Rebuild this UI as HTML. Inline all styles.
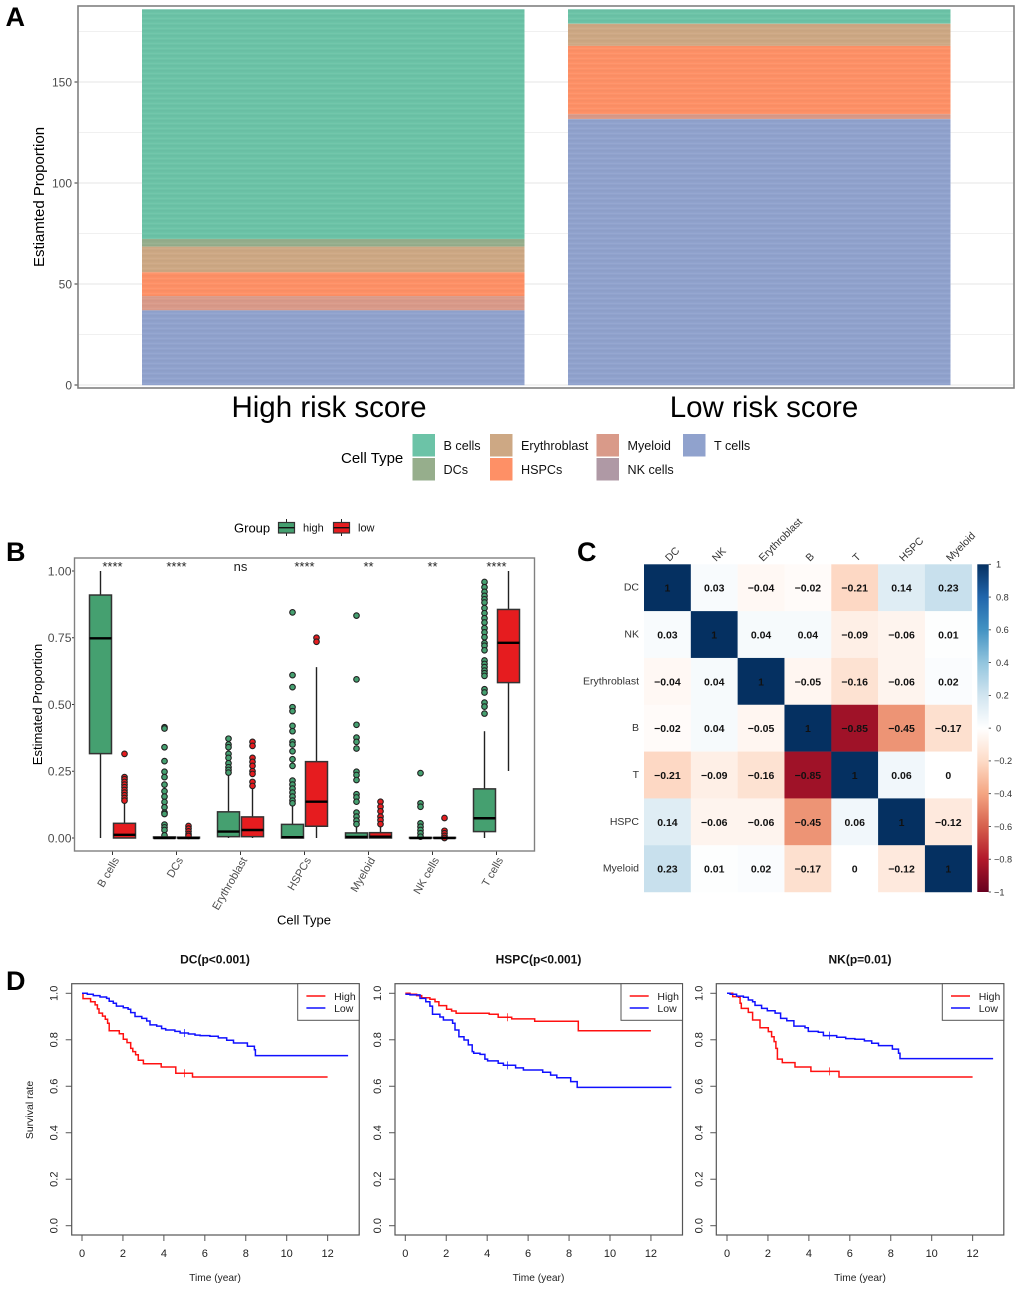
<!DOCTYPE html>
<html lang="en">
<head>
<meta charset="utf-8">
<title>Cell type proportions, correlation and survival</title>
<style>
html,body{margin:0;padding:0;background:#fff;width:1020px;height:1289px;overflow:hidden}
svg{display:block;font-family:"Liberation Sans",sans-serif;filter:blur(0.3px)}
</style>
</head>
<body>
<svg id="fig" xmlns="http://www.w3.org/2000/svg" width="1020" height="1289" viewBox="0 0 1020 1289">
<defs>
<linearGradient id="rdbu" x1="0" y1="0" x2="0" y2="1">
<stop offset="0" stop-color="#053061"/><stop offset="0.1" stop-color="#2166ac"/><stop offset="0.2" stop-color="#4393c3"/><stop offset="0.3" stop-color="#92c5de"/><stop offset="0.4" stop-color="#d1e5f0"/><stop offset="0.5" stop-color="#ffffff"/><stop offset="0.6" stop-color="#fddbc7"/><stop offset="0.7" stop-color="#f4a582"/><stop offset="0.8" stop-color="#d6604d"/><stop offset="0.9" stop-color="#b2182b"/><stop offset="1" stop-color="#67001f"/>
</linearGradient>
<pattern id="stripes" patternUnits="userSpaceOnUse" width="10" height="5">
<rect x="0" y="0" width="10" height="1.5" fill="#000" fill-opacity="0.025"/>
<rect x="0" y="3" width="10" height="1" fill="#fff" fill-opacity="0.05"/>
</pattern>
</defs>
<text x="5.5" y="26" font-size="27" font-weight="bold">A</text>
<text x="6" y="561" font-size="27" font-weight="bold">B</text>
<text x="577" y="561" font-size="27" font-weight="bold">C</text>
<text x="6" y="990" font-size="27" font-weight="bold">D</text>
</svg>
<script>
// ---------- Panel A data ----------
const stackGroups = ['High risk score', 'Low risk score'];
const stackTypes = ['B cells', 'DCs', 'Erythroblast', 'HSPCs', 'Myeloid', 'NK cells', 'T cells'];
const stackHigh = [113.7, 3.8, 12.7, 11.8, 7, 0.1, 37];
const stackLow = [7.1, 0.1, 10.9, 33.8, 2.5, 0, 131.7];
const stackColors = ['#6cc3a7', '#96ae8c', '#cda884', '#fe9066', '#d99a89', '#af99a5', '#90a2cd'];
const stackMajorTicks = [0, 50, 100, 150];
const stackMinorTicks = [25, 75, 125, 175];

// ---------- Panel B data ----------
const boxCategories = ['B cells', 'DCs', 'Erythroblast', 'HSPCs', 'Myeloid', 'NK cells', 'T cells'];
const boxSignificance = ['****', '****', 'ns', '****', '**', '**', '****'];
const boxTicks = ['0.00', '0.25', '0.50', '0.75', '1.00'];
const highQ1 = [0.316, 0, 0.005, 0, 0, 0, 0.024];
const highMedian = [0.748, 0, 0.024, 0.003, 0.004, 0, 0.074];
const highQ3 = [0.91, 0.004, 0.098, 0.051, 0.019, 0.002, 0.184];
const highWhiskerLow = [0, 0, 0, 0, 0, 0, 0];
const highWhiskerHigh = [1, 0.006, 0.24, 0.12, 0.05, 0.004, 0.4];
const highOutliers = [
  [],
  [0.415, 0.41, 0.34, 0.288, 0.248, 0.228, 0.2, 0.175, 0.155, 0.135, 0.115, 0.095, 0.09, 0.05, 0.04, 0.03, 0.01],
  [0.372, 0.35, 0.34, 0.315, 0.3, 0.28, 0.265, 0.255, 0.245],
  [0.845, 0.61, 0.565, 0.49, 0.475, 0.42, 0.4, 0.36, 0.35, 0.325, 0.295, 0.27, 0.215, 0.2, 0.185, 0.17, 0.155, 0.14, 0.13],
  [0.833, 0.594, 0.424, 0.376, 0.36, 0.335, 0.248, 0.236, 0.217, 0.164, 0.152, 0.136, 0.095, 0.08, 0.065, 0.052],
  [0.243, 0.13, 0.117, 0.055, 0.042, 0.03, 0.018, 0.005],
  [0.959, 0.939, 0.922, 0.907, 0.894, 0.882, 0.861, 0.842, 0.823, 0.807, 0.786, 0.77, 0.752, 0.73, 0.72, 0.703, 0.665, 0.652, 0.64, 0.627, 0.617, 0.607, 0.557, 0.545, 0.507, 0.492, 0.466]
];
const lowQ1 = [0, 0, 0.005, 0.044, 0, 0, 0.582];
const lowMedian = [0.012, 0, 0.03, 0.136, 0.005, 0, 0.731];
const lowQ3 = [0.055, 0.003, 0.079, 0.286, 0.02, 0.002, 0.856];
const lowWhiskerLow = [0, 0, 0, 0, 0, 0, 0.251];
const lowWhiskerHigh = [0.135, 0.005, 0.185, 0.64, 0.045, 0.004, 1];
const lowOutliers = [
  [0.315, 0.228, 0.22, 0.21, 0.2, 0.19, 0.18, 0.17, 0.16, 0.15, 0.14],
  [0.045, 0.035, 0.025, 0.015, 0.008],
  [0.36, 0.345, 0.3, 0.285, 0.27, 0.25, 0.24, 0.21, 0.195],
  [0.75, 0.735],
  [0.136, 0.117, 0.1, 0.08, 0.067, 0.052],
  [0.075, 0.027, 0.018, 0.008, 0],
  []
];

// ---------- Panel C data ----------
const corrLabels = ['DC', 'NK', 'Erythroblast', 'B', 'T', 'HSPC', 'Myeloid'];
const corrValues = [
  [1, 0.03, -0.04, -0.02, -0.21, 0.14, 0.23],
  [0.03, 1, 0.04, 0.04, -0.09, -0.06, 0.01],
  [-0.04, 0.04, 1, -0.05, -0.16, -0.06, 0.02],
  [-0.02, 0.04, -0.05, 1, -0.85, -0.45, -0.17],
  [-0.21, -0.09, -0.16, -0.85, 1, 0.06, 0],
  [0.14, -0.06, -0.06, -0.45, 0.06, 1, -0.12],
  [0.23, 0.01, 0.02, -0.17, 0, -0.12, 1]
];
const colorbarTicks = [1, 0.8, 0.6, 0.4, 0.2, 0, -0.2, -0.4, -0.6, -0.8, -1];
const rdbuStops = ['#67001f', '#b2182b', '#d6604d', '#f4a582', '#fddbc7', '#ffffff', '#d1e5f0', '#92c5de', '#4393c3', '#2166ac', '#053061'];

// ---------- Panel D data ----------
const kmXTicks = [0, 2, 4, 6, 8, 10, 12];
const kmYTicks = ['0.0', '0.2', '0.4', '0.6', '0.8', '1.0'];
const dcHighT = [0, 0.05, 0.42, 0.64, 0.75, 0.83, 1, 1.14, 1.25, 1.33, 1.82, 2.02, 2.2, 2.38, 2.48, 2.62, 2.75, 3, 3.87, 4.58, 5.4, 12];
const dcHighS = [1, 0.977, 0.964, 0.95, 0.933, 0.915, 0.902, 0.888, 0.871, 0.839, 0.826, 0.802, 0.788, 0.763, 0.749, 0.736, 0.712, 0.697, 0.683, 0.656, 0.64, 0.64];
const dcLowT = [0, 0.26, 0.55, 0.88, 1.2, 1.33, 1.53, 1.68, 2.02, 2.25, 2.38, 2.59, 2.92, 3.16, 3.32, 3.65, 3.89, 4.09, 4.54, 4.79, 5.2, 5.52, 5.77, 6.25, 6.66, 7.07, 7.4, 8.08, 8.42, 8.47, 13];
const dcLowS = [1, 0.996, 0.99, 0.984, 0.978, 0.966, 0.957, 0.945, 0.938, 0.931, 0.917, 0.9, 0.892, 0.881, 0.864, 0.859, 0.848, 0.842, 0.836, 0.829, 0.825, 0.82, 0.818, 0.815, 0.808, 0.798, 0.786, 0.772, 0.757, 0.732, 0.732];
const hspcHighT = [0, 0.23, 0.55, 0.8, 1.2, 1.45, 1.64, 2.02, 2.26, 2.48, 4.1, 4.54, 5.2, 6.32, 8.45, 12];
const hspcHighS = [1, 0.996, 0.99, 0.981, 0.974, 0.964, 0.947, 0.931, 0.924, 0.914, 0.91, 0.897, 0.89, 0.88, 0.839, 0.839];
const hspcLowT = [0, 0.23, 0.72, 1, 1.2, 1.33, 1.69, 1.86, 2.31, 2.43, 2.62, 2.87, 3.08, 3.27, 3.34, 3.65, 3.89, 4.02, 4.54, 4.79, 5.39, 5.77, 6.71, 7.1, 7.4, 8.08, 8.4, 13];
const hspcLowS = [0.996, 0.993, 0.978, 0.964, 0.945, 0.91, 0.898, 0.885, 0.871, 0.842, 0.813, 0.799, 0.778, 0.749, 0.742, 0.737, 0.717, 0.709, 0.699, 0.69, 0.679, 0.67, 0.66, 0.648, 0.637, 0.62, 0.595, 0.595];
const nkHighT = [0, 0.28, 0.57, 0.64, 0.7, 1.04, 1.25, 1.61, 2.02, 2.18, 2.3, 2.39, 2.46, 2.7, 3.32, 4.1, 5.47, 12];
const nkHighS = [1, 0.986, 0.983, 0.957, 0.935, 0.918, 0.885, 0.852, 0.835, 0.813, 0.792, 0.763, 0.717, 0.702, 0.683, 0.664, 0.64, 0.64];
const nkLowT = [0, 0.15, 0.47, 0.8, 1.04, 1.25, 1.37, 1.69, 1.97, 2.35, 2.62, 2.92, 3.27, 3.81, 3.97, 4.46, 4.71, 5.36, 5.8, 6.25, 6.71, 7.07, 7.4, 8.08, 8.38, 8.45, 13];
const nkLowS = [1, 0.996, 0.988, 0.983, 0.971, 0.964, 0.948, 0.935, 0.925, 0.915, 0.892, 0.882, 0.859, 0.852, 0.836, 0.832, 0.818, 0.811, 0.805, 0.802, 0.795, 0.785, 0.775, 0.76, 0.742, 0.719, 0.719];

// ---------- helpers ----------
const fig = document.getElementById('fig');
const NS = 'http://www.w3.org/2000/svg';
function mk(tag, attrs, parent, txt) {
  const el = document.createElementNS(NS, tag);
  for (const k in attrs) el.setAttribute(k, attrs[k]);
  if (txt !== undefined) el.textContent = txt;
  (parent || fig).appendChild(el);
  return el;
}
function slug(s) { return String(s).toLowerCase().replace(/[^a-z0-9]+/g, '-').replace(/^-|-$/g, ''); }

// ---------- Panel A ----------
const yA = v => 385 - v * 2.02;
const barXA = [142, 568];
const barWA = 382.5;
const groupLabelX = [329, 764];
(function () {
  const g = mk('g', {});
  
  
  const bg = mk('rect', { x: 78, y: 6, width: 936, height: 382, fill: '#fff' }, g);
  
  
  stackMinorTicks.forEach(v => {
    const l = mk('line', { x1: 79, x2: 1013, y1: yA(v), y2: yA(v), stroke: '#f0f0f0', 'stroke-width': 1 }, g);
    
    
  });
  stackMajorTicks.forEach(v => {
    const l = mk('line', { x1: 79, x2: 1013, y1: yA(v), y2: yA(v), stroke: '#ebebeb', 'stroke-width': 1.3 }, g);
    
    
    const t = mk('line', { x1: 74.5, x2: 78, y1: yA(v), y2: yA(v), stroke: '#333', 'stroke-width': 1 }, g);
    
    
    const lab = mk('text', { x: 72, y: yA(v) + 4.4, 'text-anchor': 'end', 'font-size': 12, fill: '#4d4d4d' }, g, v);
    
    
  });
  [stackHigh, stackLow].forEach((vals, gi) => {
    let base = 186;
    vals.forEach((v, i) => {
      const top = base;
      base -= v;
      if (v <= 0) return;
      const r = mk('rect', { x: barXA[gi], y: yA(top), width: barWA, height: v * 2.02, fill: stackColors[i] }, g);
      
      
    });
    const tex = mk('rect', { x: barXA[gi], y: yA(186), width: barWA, height: 186 * 2.02, fill: 'url(#stripes)' }, g);
    
    
    const lab = mk('text', { x: groupLabelX[gi], y: 417, 'text-anchor': 'middle', 'font-size': 29.5 }, g, stackGroups[gi]);
    
    
  });
  const frame = mk('rect', { x: 78, y: 6, width: 936, height: 382, fill: 'none', stroke: '#808080', 'stroke-width': 1.6 }, g);
  
  
  const yt = mk('text', { transform: 'translate(44,197) rotate(-90)', 'text-anchor': 'middle', 'font-size': 15 }, g, 'Estiamted Proportion');
  
  
  const lt = mk('text', { x: 341, y: 463, 'font-size': 15 }, g, 'Cell Type');
  
  
  const colX = [412.5, 412.5, 490, 490, 596.5, 596.5, 683];
  const rowY = [434, 458, 434, 458, 434, 458, 434];
  stackTypes.forEach((name, i) => {
    const s = mk('rect', { x: colX[i], y: rowY[i], width: 22.5, height: 22.5, fill: stackColors[i] }, g);
    
    
    const t = mk('text', { x: colX[i] + 31, y: rowY[i] + 16, 'font-size': 12.6, fill: '#111' }, g, name);
    
    
  });
})();

// ---------- Panel B ----------
const yB = v => 838 - v * 267;
const xB = i => 112.5 + i * 64;
const boxW = 22;
const BOX_GREEN = '#45a070';
const BOX_RED = '#e61c1f';
function drawBox(g, cx, q1, med, q3, wl, wh, outs, color, label) {
  const wa = mk('line', { x1: cx, x2: cx, y1: yB(wh), y2: yB(q3), stroke: '#222', 'stroke-width': 1.4 }, g);
  
  
  const wb = mk('line', { x1: cx, x2: cx, y1: yB(q1), y2: yB(wl), stroke: '#222', 'stroke-width': 1.4 }, g);
  
  
  outs.forEach(o => {
    const c = mk('circle', { cx: cx, cy: yB(o), r: 2.8, fill: color, stroke: '#222', 'stroke-width': 1.1 }, g);
    
    
  });
  const r = mk('rect', { x: cx - boxW / 2, y: yB(q3), width: boxW, height: Math.max(yB(q1) - yB(q3), 0.1), fill: color, stroke: '#333', 'stroke-width': 1.5 }, g);
  
  
  const m = mk('line', { x1: cx - boxW / 2, x2: cx + boxW / 2, y1: yB(med), y2: yB(med), stroke: '#000', 'stroke-width': 2.4 }, g);
  
  
}
(function () {
  const g = mk('g', {});
  
  
  boxCategories.forEach((name, i) => {
    const s = slug(name);
    drawBox(g, xB(i) - 12, highQ1[i], highMedian[i], highQ3[i], highWhiskerLow[i], highWhiskerHigh[i], highOutliers[i], BOX_GREEN, s + '-high');
    drawBox(g, xB(i) + 12, lowQ1[i], lowMedian[i], lowQ3[i], lowWhiskerLow[i], lowWhiskerHigh[i], lowOutliers[i], BOX_RED, s + '-low');
    const sig = mk('text', { x: xB(i), y: 571, 'text-anchor': 'middle', 'font-size': 13, fill: '#222' }, g, boxSignificance[i]);
    
    
    const t = mk('line', { x1: xB(i), x2: xB(i), y1: 851, y2: 855, stroke: '#333', 'stroke-width': 1 }, g);
    
    
    const lab = mk('text', { transform: 'translate(' + (xB(i) + 7) + ',860) rotate(-60)', 'text-anchor': 'end', 'font-size': 11, fill: '#4d4d4d' }, g, name);
    
    
  });
  boxTicks.forEach(v => {
    const t = mk('line', { x1: 72, x2: 74, y1: yB(+v), y2: yB(+v), stroke: '#333', 'stroke-width': 1 }, g);
    
    
    const lab = mk('text', { x: 71.5, y: yB(+v) + 4.4, 'text-anchor': 'end', 'font-size': 12.2, fill: '#4d4d4d' }, g, v);
    
    
  });
  const frame = mk('rect', { x: 74.5, y: 558, width: 460, height: 293, fill: 'none', stroke: '#808080', 'stroke-width': 1.4 }, g);
  
  
  const yt = mk('text', { transform: 'translate(42,704.5) rotate(-90)', 'text-anchor': 'middle', 'font-size': 13 }, g, 'Estimated Proportion');
  
  
  const xt = mk('text', { x: 304, y: 924.5, 'text-anchor': 'middle', 'font-size': 13 }, g, 'Cell Type');
  
  
  const lg = mk('text', { x: 234, y: 532.5, 'font-size': 13 }, g, 'Group');
  
  
  [['high', 278.5, BOX_GREEN, 303], ['low', 333.5, BOX_RED, 358]].forEach(k => {
    const w = mk('line', { x1: k[1] + 8, x2: k[1] + 8, y1: 519, y2: 536, stroke: '#222', 'stroke-width': 1 }, g);
    
    
    const r = mk('rect', { x: k[1], y: 522.5, width: 16, height: 10.5, fill: k[2], stroke: '#333', 'stroke-width': 1.2 }, g);
    
    
    const m = mk('line', { x1: k[1], x2: k[1] + 16, y1: 527.7, y2: 527.7, stroke: '#111', 'stroke-width': 1.4 }, g);
    
    
    const t = mk('text', { x: k[3], y: 531.5, 'font-size': 11, fill: '#111' }, g, k[0]);
    
    
  });
})();

// ---------- Panel C ----------
const heatX0 = 644, heatY0 = 564.3, heatCell = 46.82;
const yBar = v => 564.3 + (1 - v) / 2 * 327.7;
function hexToRgb(h) { return [1, 3, 5].map(i => parseInt(h.substr(i, 2), 16)); }
function corrColor(v) {
  const p = (v + 1) * 5;
  const i = Math.min(Math.floor(p), 9);
  const f = p - i;
  const a = hexToRgb(rdbuStops[i]);
  const b = hexToRgb(rdbuStops[i + 1]);
  return 'rgb(' + a.map((c, k) => Math.round(c + (b[k] - c) * f)).join(',') + ')';
}
(function () {
  const g = mk('g', {});
  
  
  corrValues.forEach((row, r) => {
    row.forEach((v, c) => {
      const x = heatX0 + c * heatCell;
      const y = heatY0 + r * heatCell;
      const cell = mk('rect', { x: x, y: y, width: heatCell + 0.2, height: heatCell + 0.2, fill: corrColor(v) }, g);
      
      
      const t = mk('text', { x: x + heatCell / 2, y: y + heatCell / 2 + 4, 'text-anchor': 'middle', 'font-size': 10.5, 'font-weight': 'bold', fill: '#111' }, g, String(v).replace('-', '\u2212'));
      
      
    });
  });
  corrLabels.forEach((name, i) => {
    const rl = mk('text', { x: 639, y: heatY0 + i * heatCell + heatCell / 2 + 3, 'text-anchor': 'end', 'font-size': 10.5, fill: '#333' }, g, name);
    
    
    const cl = mk('text', { transform: 'translate(' + (heatX0 + i * heatCell + heatCell / 2 + 2) + ',562) rotate(-45)', 'font-size': 10.5, fill: '#333' }, g, name);
    
    
  });
  const bar = mk('rect', { x: 977.3, y: 564.3, width: 11.4, height: 327.7, fill: 'url(#rdbu)' }, g);
  
  
  colorbarTicks.forEach(v => {
    const t = mk('line', { x1: 988.7, x2: 991, y1: yBar(v), y2: yBar(v), stroke: '#333', 'stroke-width': 0.8 }, g);
    
    
    const anchorX = v < 0 ? 994 : 996;
    const lab = mk('text', { x: anchorX, y: yBar(v) + 3.3, 'font-size': 9.2, fill: '#333' }, g, String(v).replace('-', '\u2212'));
    
    
  });
})();

// ---------- Panel D ----------
const kmY = s => 1225.7 - s * 232.4;
function stepPath(xf, ts, ss) {
  let d = 'M' + xf(ts[0]).toFixed(1) + ' ' + kmY(ss[0]).toFixed(1);
  for (let i = 1; i < ts.length; i++) {
    d += 'H' + xf(ts[i]).toFixed(1) + 'V' + kmY(ss[i]).toFixed(1);
  }
  return d;
}
function survAt(ts, ss, t) {
  let s = ss[0];
  for (let i = 0; i < ts.length; i++) { if (ts[i] <= t) s = ss[i]; }
  return s;
}
function drawKM(cfg) {
  const g = mk('g', {});
  
  
  const xf = t => cfg.x0 + t * 20.47;
  const ti = mk('text', { x: cfg.titleX, y: 963.5, 'text-anchor': 'middle', 'font-size': 12, 'font-weight': 'bold', fill: '#111' }, g, cfg.title);
  
  
  const fr = mk('rect', { x: cfg.left, y: 983.7, width: 287.5, height: 251.3, fill: 'none', stroke: '#555', 'stroke-width': 1.2 }, g);
  
  
  kmXTicks.forEach(v => {
    const t = mk('line', { x1: xf(v), x2: xf(v), y1: 1235, y2: 1241, stroke: '#555', 'stroke-width': 1 }, g);
    
    
    const lab = mk('text', { x: xf(v), y: 1257, 'text-anchor': 'middle', 'font-size': 11, fill: '#222' }, g, v);
    
    
  });
  kmYTicks.forEach(v => {
    const t = mk('line', { x1: cfg.left - 6, x2: cfg.left, y1: kmY(+v), y2: kmY(+v), stroke: '#555', 'stroke-width': 1 }, g);
    
    
    const lab = mk('text', { transform: 'translate(' + (cfg.left - 14) + ',' + kmY(+v) + ') rotate(-90)', 'text-anchor': 'middle', 'font-size': 11, fill: '#222' }, g, v);
    
    
  });
  const xt = mk('text', { x: cfg.titleX, y: 1281, 'text-anchor': 'middle', 'font-size': 10.2, fill: '#222' }, g, 'Time (year)');
  
  
  const high = mk('path', { d: stepPath(xf, cfg.highT, cfg.highS), fill: 'none', stroke: '#ff1010', 'stroke-width': 1.5 }, g);
  
  
  const low = mk('path', { d: stepPath(xf, cfg.lowT, cfg.lowS), fill: 'none', stroke: '#1010ff', 'stroke-width': 1.5 }, g);
  
  
  [[cfg.highT, cfg.highS, '#ff1010', 'high'], [cfg.lowT, cfg.lowS, '#1010ff', 'low']].forEach(a => {
    const sv = survAt(a[0], a[1], 5);
    const c = mk('path', { d: 'M' + xf(5) + ' ' + (kmY(sv) - 4) + 'v8M' + (xf(5) - 3) + ' ' + kmY(sv) + 'h6', stroke: a[2], 'stroke-width': 0.7, fill: 'none' }, g);
    
    
  });
  const lx = cfg.left + 287.5 - 61.5;
  const box = mk('rect', { x: lx, y: 983.7, width: 61.5, height: 36.6, fill: '#fff', stroke: '#555', 'stroke-width': 1 }, g);
  
  
  [['High', 996, '#ff1010'], ['Low', 1008, '#1010ff']].forEach(k => {
    const l = mk('line', { x1: lx + 8.7, x2: lx + 27.7, y1: k[1], y2: k[1], stroke: k[2], 'stroke-width': 1.4 }, g);
    
    
    const t = mk('text', { x: lx + 36.4, y: k[1] + 4, 'font-size': 10.5, fill: '#222' }, g, k[0]);
    
    
  });
  return g;
}
drawKM({ id: 'dc', title: 'DC(p<0.001)', titleX: 215, left: 71.7, x0: 82, highT: dcHighT, highS: dcHighS, lowT: dcLowT, lowS: dcLowS });
drawKM({ id: 'hspc', title: 'HSPC(p<0.001)', titleX: 538.5, left: 395, x0: 405.3, highT: hspcHighT, highS: hspcHighS, lowT: hspcLowT, lowS: hspcLowS });
drawKM({ id: 'nk', title: 'NK(p=0.01)', titleX: 860, left: 716.3, x0: 727, highT: nkHighT, highS: nkHighS, lowT: nkLowT, lowS: nkLowS });
const survivalYTitle = mk('text', { transform: 'translate(33,1110) rotate(-90)', 'text-anchor': 'middle', 'font-size': 10.5, fill: '#222' }, fig, 'Survival rate');


</script>
</body>
</html>
